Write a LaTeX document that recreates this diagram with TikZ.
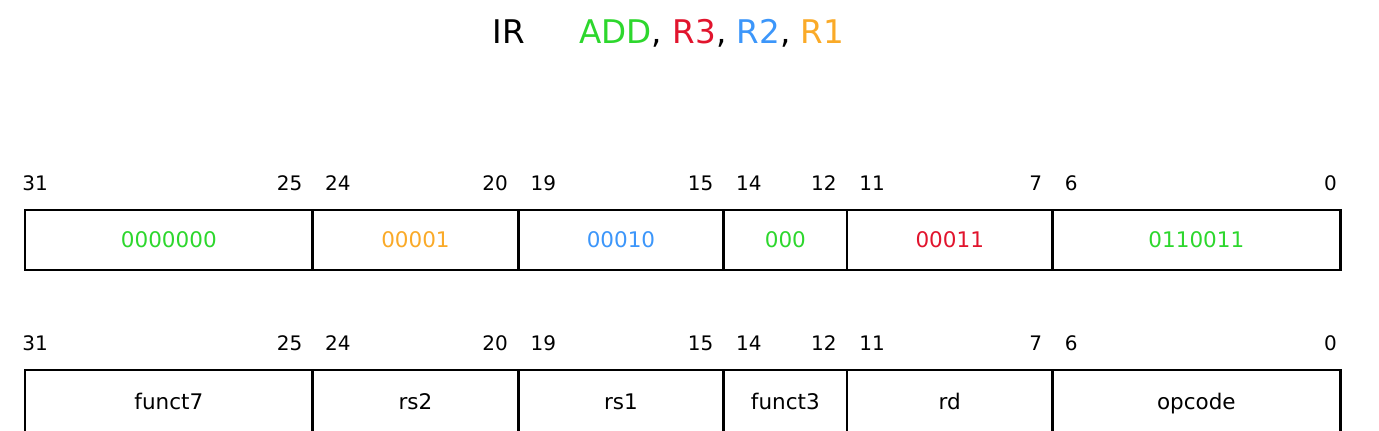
\documentclass[tikz,border=0pt]{standalone}
\usepackage{fontspec}
\setmainfont{DejaVu Sans}
\usetikzlibrary{positioning}
\definecolor{opgreen}{RGB}{45,215,45}
\definecolor{regred}{RGB}{225,20,45}
\definecolor{regblue}{RGB}{60,150,250}
\definecolor{regorange}{RGB}{250,170,40}
\tikzset{
  field/.style = {draw, line width = 1.4pt, inner sep = 0pt, outer sep = 0pt,
    minimum width = #1*\bitwidth, minimum height = 30pt,
    text height = 7.8pt, text depth = 0pt,
    font = \fontsize{10.75}{13}\selectfont},
  fieldname/.style = {minimum height = 32pt},
  bitno/.style = {inner sep = 0pt, font = \fontsize{10}{12}\selectfont},
  title/.style = {inner sep = 0pt, font = \fontsize{16.3}{19}\selectfont}
}
\def \bitwidth {20.55pt}   % 32 bits across the word
\def \labelgap {10pt}      % bit numbers sit this far over a row

\begin{document}
\begin{tikzpicture}
\useasboundingbox (0,0) rectangle (689.5pt,-215pt);

%% Instruction
\node [title, anchor = base west] (ir) at (246pt,-21.5pt) {IR};
\node [title, anchor = base west] (instr) at ([xshift = 27pt] ir.base east)
  {{\color{opgreen}ADD}, {\color{regred}R3}, {\color{regblue}R2}, {\color{regorange}R1}};

%% Encoded word
\foreach \w/\txt/\col/\hi/\lo [count = \i, remember = \i as \lasti (initially 0)] in
  {7/0000000/opgreen/31/25, 5/00001/regorange/24/20, 5/00010/regblue/19/15,
   3/000/opgreen/14/12, 5/00011/regred/11/7, 7/0110011/opgreen/6/0} {
  \ifnum \i = 1
    \node [field = \w, text = \col, anchor = west] (code\i) at (12.5pt,-120pt) {\txt};
    \def \hishift {-1.5pt}
  \else
    \node [field = \w, text = \col] (code\i) [right = 0pt of code\lasti] {\txt};
    \def \hishift {6pt}
  \fi
  \ifnum \i = 6 \def \loshift {-1.5pt} \else \def \loshift {-5pt} \fi
  \node [bitno, anchor = base west] (chi\i) at ([shift = {(\hishift,\labelgap)}] code\i.north west) {\hi};
  \node [bitno, anchor = base east] (clo\i) at ([shift = {(\loshift,\labelgap)}] code\i.north east) {\lo};
}

%% Format
\foreach \w/\txt/\hi/\lo [count = \i, remember = \i as \lasti (initially 0)] in
  {7/funct7/31/25, 5/rs2/24/20, 5/rs1/19/15, 3/funct3/14/12, 5/rd/11/7, 7/opcode/6/0} {
  \ifnum \i = 1
    \node [field = \w, fieldname, anchor = north west] (fmt\i) at (12.5pt,-185pt) {\txt};
    \def \hishift {-1.5pt}
  \else
    \node [field = \w, fieldname] (fmt\i) [right = 0pt of fmt\lasti] {\txt};
    \def \hishift {6pt}
  \fi
  \ifnum \i = 6 \def \loshift {-1.5pt} \else \def \loshift {-5pt} \fi
  \node [bitno, anchor = base west] (fhi\i) at ([shift = {(\hishift,\labelgap)}] fmt\i.north west) {\hi};
  \node [bitno, anchor = base east] (flo\i) at ([shift = {(\loshift,\labelgap)}] fmt\i.north east) {\lo};
}

\end{tikzpicture}
\end{document}
